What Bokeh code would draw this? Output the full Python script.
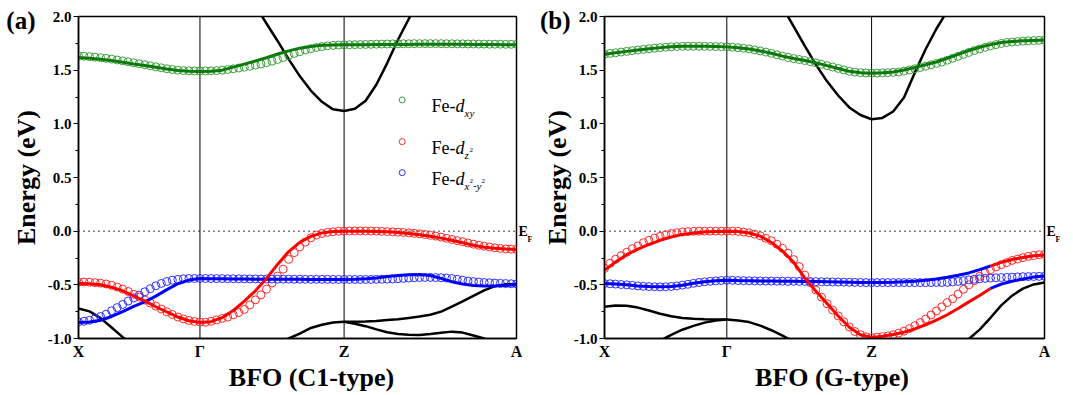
import numpy as np
from bokeh.plotting import figure
from bokeh.layouts import row
from bokeh.models import Range1d, FixedTicker, Label, Span, PrintfTickFormatter, LinearAxis
from bokeh.embed import file_html
from bokeh.resources import INLINE

nan = float("nan")

# ---------------- path / axes data ----------------
KPOS_A = [0.0, 0.2773, 0.6064, 1.0]      # X, Gamma, Z, A  (panel a)
KPOS_B = [0.0, 0.278, 0.607, 1.0]        # X, Gamma, Z, A  (panel b)
K_LABELS = ["X", "Γ", "Z", "A"]
FINE_N = [22, 26, 32]                    # k-points per segment (circles); lines use every 2nd
Y_TICKS = [-1.0, -0.5, 0.0, 0.5, 1.0, 1.5, 2.0]
Y_MINOR = [-0.75, -0.25, 0.25, 0.75, 1.25, 1.75]
SWITCH_K_B = 0.877                       # band-character swap on Z-A in panel b
TAG_Y = 1.96                             # height of the "(a)"/"(b)" tags
EF_SUB_Y = -0.074                        # height of the "F" subscript of E_F
XTITLE_K_A, XTITLE_K_B = 0.532, 0.517    # where the x titles are centred

# ---------------- panel (a): BFO (C1-type) ----------------
# lines: 12 (X..Gamma) + 13 (..Z) + 16 (..A) values
red_line_a = ([-0.488, -0.490, -0.499, -0.522, -0.556, -0.604, -0.650, -0.704, -0.753, -0.800, -0.835, -0.851]
              + [-0.843, -0.806, -0.740, -0.651, -0.556, -0.440, -0.310, -0.190, -0.105, -0.048, -0.016, -0.003, 0.0]
              + [0.0, 0.0, -0.002, -0.006, -0.012, -0.022, -0.033, -0.047, -0.065, -0.085, -0.108, -0.131, -0.150, -0.160, -0.166, -0.170])
blue_line_a = ([-0.851, -0.847, -0.830, -0.795, -0.750, -0.700, -0.658, -0.605, -0.545, -0.490, -0.456, -0.442]
               + [-0.443, -0.444, -0.445, -0.446, -0.447, -0.448, -0.448, -0.449, -0.449, -0.450, -0.450, -0.450, -0.450]
               + [-0.447, -0.443, -0.436, -0.423, -0.413, -0.407, -0.404, -0.413, -0.440, -0.471, -0.493, -0.506, -0.512, -0.510, -0.506, -0.500])
green_line_a = ([1.618, 1.612, 1.602, 1.590, 1.574, 1.558, 1.543, 1.527, 1.510, 1.497, 1.489, 1.487]
                + [1.490, 1.500, 1.528, 1.556, 1.585, 1.617, 1.651, 1.680, 1.705, 1.721, 1.733, 1.735, 1.736]
                + [1.737, 1.737, 1.738, 1.739, 1.739, 1.740, 1.741, 1.742, 1.742, 1.742, 1.741, 1.740, 1.739, 1.738, 1.737, 1.736])
black_para_a = ([nan] * 12
                + [nan, nan, nan, 2.26, 2.10, 1.935, 1.772, 1.603, 1.445, 1.310, 1.205, 1.135, 1.120]
                + [1.140, 1.215, 1.367, 1.566, 1.783, 1.977, 2.17] + [nan] * 9)
black_x_a = ([-0.721, -0.747, -0.810, -0.898, -0.987, -1.07] + [nan] * 6 + [nan] * 13 + [nan] * 16)
black_u_a = ([nan] * 12
             + [nan] * 6 + [-1.05, -1.0, -0.955, -0.902, -0.872, -0.851, -0.845]
             + [-0.844, -0.841, -0.836, -0.828, -0.820, -0.808, -0.796, -0.778, -0.750, -0.704, -0.655, -0.603, -0.552, -0.512, -0.494, -0.492])
black_l_a = ([nan] * 12 + [nan] * 12 + [-0.845]
             + [-0.862, -0.885, -0.915, -0.942, -0.958, -0.966, -0.968, -0.959, -0.946, -0.936, -0.945, -0.972, -1.0, -1.05, nan, nan])

# circles: 23 (X..Gamma) + 26 (..Z) + 32 (..A) values
red_circ_a = ([-0.474, -0.474, -0.476, -0.480, -0.485, -0.492, -0.505, -0.520, -0.540, -0.562, -0.588, -0.614,
               -0.642, -0.670, -0.698, -0.725, -0.752, -0.777, -0.800, -0.818, -0.832, -0.841, -0.847]
              + [-0.849, -0.840, -0.827, -0.813, -0.800, -0.780, -0.758, -0.729, -0.687, -0.640, -0.593, -0.540, -0.483,
                 -0.418, -0.354, -0.263, -0.200, -0.147, -0.102, -0.062, -0.036, -0.022, -0.011, -0.005, -0.001, 0.0]
              + [0.002, 0.002, 0.002, 0.002, 0.001, 0.0, -0.002, -0.004, -0.006, -0.009, -0.012, -0.016, -0.020, -0.025,
                 -0.031, -0.038, -0.046, -0.055, -0.066, -0.077, -0.088, -0.099, -0.110, -0.121, -0.131, -0.140, -0.148,
                 -0.155, -0.161, -0.165, -0.168, -0.170])
blue_circ_a = ([-0.845, -0.839, -0.830, -0.815, -0.795, -0.774, -0.742, -0.712, -0.683, -0.651, -0.622, -0.596,
                -0.565, -0.536, -0.509, -0.487, -0.469, -0.457, -0.449, -0.443, -0.441, -0.441, -0.441]
               + [-0.441, -0.441, -0.442, -0.442, -0.443, -0.443, -0.444, -0.444, -0.445, -0.445, -0.446, -0.446, -0.446,
                  -0.447, -0.447, -0.447, -0.448, -0.448, -0.448, -0.449, -0.449, -0.449, -0.449, -0.450, -0.450, -0.450]
               + [-0.450, -0.450, -0.450, -0.450, -0.450, -0.449, -0.448, -0.447, -0.445, -0.443, -0.440, -0.437, -0.434,
                  -0.432, -0.431, -0.431, -0.432, -0.434, -0.437, -0.441, -0.448, -0.456, -0.465, -0.470, -0.474, -0.478,
                  -0.481, -0.484, -0.486, -0.488, -0.490, -0.491])
green_circ_a = ([1.634, 1.630, 1.626, 1.621, 1.616, 1.610, 1.603, 1.595, 1.587, 1.578, 1.569, 1.560, 1.551, 1.541,
                 1.531, 1.522, 1.513, 1.506, 1.500, 1.496, 1.494, 1.493, 1.493]
                + [1.493, 1.494, 1.496, 1.500, 1.506, 1.513, 1.520, 1.528, 1.537, 1.547, 1.558, 1.570, 1.584, 1.600,
                   1.618, 1.637, 1.656, 1.672, 1.688, 1.700, 1.711, 1.720, 1.727, 1.731, 1.734, 1.736]
                + [1.737, 1.738, 1.739, 1.740, 1.741, 1.742, 1.743, 1.744, 1.745, 1.745, 1.746, 1.746, 1.747, 1.747,
                   1.747, 1.747, 1.747, 1.747, 1.746, 1.746, 1.745, 1.745, 1.744, 1.744, 1.743, 1.743, 1.742, 1.742,
                   1.742, 1.741, 1.741, 1.741])

# ---------------- panel (b): BFO (G-type) ----------------
red_line_b = ([-0.363, -0.288, -0.219, -0.167, -0.124, -0.085, -0.054, -0.030, -0.017, -0.007, -0.002, 0.0]
              + [-0.003, -0.017, -0.046, -0.105, -0.185, -0.290, -0.435, -0.560, -0.675, -0.790, -0.895, -0.965, -0.990]
              + [-0.980, -0.963, -0.941, -0.911, -0.872, -0.829, -0.779, -0.720, -0.659, -0.599, -0.534, -0.493, -0.466, -0.445, -0.428, -0.417])
blue_line_b = ([-0.488, -0.493, -0.500, -0.510, -0.516, -0.519, -0.515, -0.503, -0.486, -0.472, -0.463, -0.457]
               + [-0.460, -0.462, -0.464, -0.465, -0.466, -0.467, -0.468, -0.470, -0.472, -0.474, -0.476, -0.478, -0.479]
               + [-0.478, -0.475, -0.471, -0.466, -0.458, -0.446, -0.430, -0.410, -0.389, -0.358, -0.325, -0.291, -0.264, -0.245, -0.230, -0.222])
green_line_b = ([1.649, 1.662, 1.675, 1.688, 1.700, 1.710, 1.718, 1.722, 1.723, 1.722, 1.720, 1.717]
                + [1.708, 1.698, 1.679, 1.657, 1.631, 1.608, 1.590, 1.568, 1.542, 1.516, 1.489, 1.477, 1.472]
                + [1.477, 1.483, 1.502, 1.525, 1.550, 1.576, 1.611, 1.647, 1.683, 1.713, 1.738, 1.758, 1.766, 1.774, 1.777, 1.780])
black_para_b = ([nan] * 12
                + [nan, nan, nan, 2.266, 2.087, 1.908, 1.726, 1.552, 1.396, 1.264, 1.153, 1.082, 1.043]
                + [1.055, 1.115, 1.245, 1.477, 1.695, 1.886, 2.05] + [nan] * 9)
black_c_b = ([-0.705, -0.692, -0.694, -0.712, -0.739, -0.770, -0.793, -0.809, -0.817, -0.821, -0.822, -0.823]
             + [-0.832, -0.847, -0.880, -0.923, -0.973, -1.03, -1.09] + [nan] * 6 + [nan] * 16)
black_d_b = ([nan] * 4 + [-1.09, -1.02, -0.966, -0.918, -0.882, -0.852, -0.832, -0.823] + [nan] * 13 + [nan] * 16)
black_e_b = ([nan] * 12 + [nan] * 13
             + [nan] * 7 + [-1.08, -1.005, -0.917, -0.807, -0.692, -0.601, -0.535, -0.496, -0.478])

red_circ_b = ([-0.348, -0.299, -0.261, -0.228, -0.196, -0.163, -0.137, -0.107, -0.085, -0.065, -0.048, -0.034,
               -0.022, -0.014, -0.008, -0.004, -0.001, 0.0, 0.0, 0.0, 0.0, 0.0, 0.0]
              + [0.0, -0.002, -0.008, -0.016, -0.028, -0.043, -0.066, -0.089, -0.122, -0.160, -0.206, -0.265, -0.330,
                 -0.409, -0.480, -0.548, -0.615, -0.676, -0.735, -0.790, -0.845, -0.893, -0.935, -0.965, -0.984, -0.992]
              + [-0.987, -0.982, -0.976, -0.965, -0.950, -0.932, -0.907, -0.881, -0.851, -0.818, -0.781, -0.743, -0.705,
                 -0.665, -0.630, -0.586, -0.542, -0.500, -0.462, -0.420, -0.387, -0.359, -0.334, -0.312, -0.293, -0.273,
                 -0.260, -0.247, -0.235, -0.226, -0.220, -0.216])
blue_circ_b = ([-0.488, -0.490, -0.493, -0.497, -0.500, -0.505, -0.510, -0.514, -0.516, -0.518, -0.519, -0.518,
                -0.515, -0.510, -0.503, -0.495, -0.486, -0.478, -0.472, -0.467, -0.463, -0.460, -0.457]
               + [-0.458, -0.460, -0.461, -0.462, -0.463, -0.464, -0.465, -0.465, -0.466, -0.466, -0.467, -0.467, -0.468,
                  -0.468, -0.469, -0.470, -0.471, -0.472, -0.473, -0.474, -0.475, -0.476, -0.477, -0.478, -0.479, -0.479]
               + [-0.479] * 11 + [-0.478, -0.478, -0.477, -0.473, -0.468, -0.461, -0.454, -0.448, -0.444, -0.440, -0.437,
                                   -0.434, -0.432, -0.430, -0.428, -0.426, -0.424, -0.423, -0.422, -0.421, -0.420])
green_circ_b = ([1.649, 1.656, 1.662, 1.669, 1.675, 1.682, 1.688, 1.694, 1.700, 1.705, 1.710, 1.714, 1.718, 1.720,
                 1.722, 1.723, 1.723, 1.723, 1.722, 1.721, 1.720, 1.719, 1.717]
                + [1.714, 1.709, 1.704, 1.698, 1.689, 1.679, 1.668, 1.657, 1.643, 1.631, 1.619, 1.608, 1.599, 1.590,
                   1.579, 1.568, 1.555, 1.542, 1.529, 1.516, 1.502, 1.489, 1.482, 1.477, 1.474, 1.472]
                + [1.473, 1.475, 1.477, 1.480, 1.483, 1.491, 1.502, 1.513, 1.525, 1.537, 1.550, 1.563, 1.576, 1.593,
                   1.611, 1.629, 1.647, 1.665, 1.683, 1.698, 1.713, 1.726, 1.738, 1.749, 1.758, 1.762, 1.766, 1.770,
                   1.774, 1.776, 1.778, 1.780])

# ---------------- styling ----------------
FONT = "Liberation Serif"
GREEN_LINE, GREEN_CIRC = "#0b7a0b", "#3c9e3c"
RED_LINE, RED_CIRC = "#ff0000", "#ff2a2a"
BLUE_LINE, BLUE_CIRC = "#0000ff", "#3030ff"


def path_grid(kpos, counts):
    parts = [np.array([kpos[0]])]
    for a, b, n in zip(kpos[:-1], kpos[1:], counts):
        parts.append(np.linspace(a, b, n + 1)[1:])
    return np.concatenate(parts)


def text_axis(tick, text, size, standoff):
    """An axis with no line or ticks that only carries one text label."""
    ax = LinearAxis(ticker=FixedTicker(ticks=[tick], minor_ticks=[]),
                    major_label_overrides={tick: text})
    ax.axis_line_color = None
    ax.major_tick_line_color = None
    ax.minor_tick_line_color = None
    ax.major_tick_in = 0
    ax.major_tick_out = 0
    ax.minor_tick_in = 0
    ax.minor_tick_out = 0
    ax.major_label_standoff = standoff
    ax.major_label_text_font = FONT
    ax.major_label_text_font_style = "bold"
    ax.major_label_text_font_size = size
    ax.major_label_text_color = "black"
    return ax


def base_figure(width, bl, br, kpos, xlabel, xlabel_k, tag, tag_standoff, ylabel_standoff):
    p = figure(width=width, height=395, x_range=Range1d(0, 1), y_range=Range1d(-1, 2),
               output_backend="svg", toolbar_location=None,
               min_border_left=bl, min_border_right=br, min_border_top=16, min_border_bottom=57)
    p.xgrid.visible = False
    p.ygrid.visible = False
    p.background_fill_color = "white"
    p.border_fill_color = "white"
    p.outline_line_color = "black"
    p.outline_line_width = 1.5
    p.outline_line_alpha = 1.0

    ya = p.yaxis[0]
    ya.ticker = FixedTicker(ticks=Y_TICKS, minor_ticks=Y_MINOR)
    ya.formatter = PrintfTickFormatter(format="%.1f")
    ya.major_tick_in = 0
    ya.major_tick_out = 5
    ya.minor_tick_in = 0
    ya.minor_tick_out = 3
    ya.axis_line_width = 1.5
    ya.major_tick_line_width = 1.2
    ya.minor_tick_line_width = 1.2
    ya.major_label_standoff = 2
    ya.major_label_text_font = FONT
    ya.major_label_text_font_style = "bold"
    ya.major_label_text_font_size = "15px"
    ya.major_label_text_color = "black"
    ya.axis_label = "Energy (eV)"
    ya.axis_label_text_font = FONT
    ya.axis_label_text_font_style = "bold"
    ya.axis_label_text_font_size = "26px"
    ya.axis_label_text_color = "black"
    ya.axis_label_standoff = ylabel_standoff

    xa = p.xaxis[0]
    xa.ticker = FixedTicker(ticks=kpos)
    xa.major_label_overrides = {k: lab for k, lab in zip(kpos, K_LABELS)}
    xa.major_tick_in = 0
    xa.major_tick_out = 0
    xa.minor_tick_line_color = None
    xa.axis_line_width = 1.5
    xa.major_label_standoff = 4
    xa.major_label_text_font = FONT
    xa.major_label_text_font_style = "bold"
    xa.major_label_text_font_size = "16px"
    xa.major_label_text_color = "black"

    # x title (sits slightly right of the frame centre, as in the original)
    p.add_layout(text_axis(xlabel_k, xlabel, "26px", 0), "below")
    # panel tag, placed outside the energy axis, pulled back over its label
    p.add_layout(text_axis(TAG_Y, tag, "25px", tag_standoff), "left")
    # Fermi level mark "E_F" on the right side
    p.add_layout(text_axis(0.0, "E", "14px", 2), "right")
    p.add_layout(text_axis(EF_SUB_Y, "F", "8px", -3), "right")

    for kv in kpos[1:-1]:
        p.add_layout(Span(location=kv, dimension="height", line_color="black", line_width=1, level="underlay"))
    p.add_layout(Span(location=0, dimension="width", line_color="black", line_width=1.5,
                      line_dash="1 4", level="underlay"))
    return p


def circles(p, k, e, color):
    p.scatter(k, np.array(e, dtype=float), marker="circle", size=8, fill_color=None,
              line_color=color, line_width=1)


def line(p, k, e, color, width=3):
    p.line(k, np.array(e, dtype=float), line_color=color, line_width=width)


# ---------------- panel a ----------------
kf_a = path_grid(KPOS_A, FINE_N)
kl_a = kf_a[::2]
pa = base_figure(535, 78, 18, KPOS_A, "BFO (C1-type)", XTITLE_K_A, "(a)", -27, 4)
for band in (black_para_a, black_x_a, black_u_a, black_l_a):
    line(pa, kl_a, band, "black", 2.5)
circles(pa, kf_a, green_circ_a, GREEN_CIRC)
circles(pa, kf_a, red_circ_a, RED_CIRC)
circles(pa, kf_a, blue_circ_a, BLUE_CIRC)
line(pa, kl_a, green_line_a, GREEN_LINE)
line(pa, kl_a, blue_line_a, BLUE_LINE)
line(pa, kl_a, red_line_a, RED_LINE)

# legend (built from glyphs and labels, as in the original)
LEG_X, LEG_TX = 0.739, 0.806
LEG_Y = [1.223, 0.834, 0.545]
LEG_COLORS = [GREEN_CIRC, RED_CIRC, BLUE_CIRC]
pa.scatter([LEG_X] * 3, LEG_Y, marker="circle", size=6, fill_color=None,
           line_color=LEG_COLORS, line_width=1)


def leg_text(p, y, text, xo, yo, size, style="normal"):
    p.add_layout(Label(x=LEG_TX, y=y, x_offset=xo, y_offset=yo, text=text, text_font=FONT,
                       text_font_style=style, text_font_size=size, text_align="left",
                       text_baseline="alphabetic", text_color="black"))


for yy in LEG_Y:
    leg_text(pa, yy, "Fe-", 0, -6, "18px")
    leg_text(pa, yy, "d", 24, -6, "18px", "italic")
leg_text(pa, LEG_Y[0], "xy", 33, -13, "11px", "italic")
leg_text(pa, LEG_Y[1], "z", 33, -13, "11px", "italic")
leg_text(pa, LEG_Y[1], "2", 38, -8, "7px")
leg_text(pa, LEG_Y[2], "x", 33, -13, "11px", "italic")
leg_text(pa, LEG_Y[2], "2", 38, -8, "7px")
leg_text(pa, LEG_Y[2], "-", 41.5, -13, "11px")
leg_text(pa, LEG_Y[2], "y", 45, -13, "11px", "italic")
leg_text(pa, LEG_Y[2], "2", 50, -8, "7px")

# ---------------- panel b ----------------
kf_b = path_grid(KPOS_B, FINE_N)
kl_b = kf_b[::2]
pb = base_figure(538, 69, 29, KPOS_B, "BFO (G-type)", XTITLE_K_B, "(b)", -31, -1)
for band in (black_para_b, black_c_b, black_d_b, black_e_b):
    line(pb, kl_b, band, "black", 2.5)
circles(pb, kf_b, green_circ_b, GREEN_CIRC)
circles(pb, kf_b, red_circ_b, RED_CIRC)
circles(pb, kf_b, blue_circ_b, BLUE_CIRC)
line(pb, kl_b, green_line_b, GREEN_LINE)
sw = int(np.searchsorted(kl_b, SWITCH_K_B))
upper = np.array(blue_line_b, dtype=float)
lower = np.array(red_line_b, dtype=float)
pb.line(kl_b[:sw + 1], upper[:sw + 1], line_color=BLUE_LINE, line_width=3)
pb.line(kl_b[sw:], upper[sw:], line_color=RED_LINE, line_width=3)
pb.line(kl_b[:sw + 1], lower[:sw + 1], line_color=RED_LINE, line_width=3)
pb.line(kl_b[sw:], lower[sw:], line_color=BLUE_LINE, line_width=3)

layout = row(pa, pb)
open("out.html", "w").write(file_html(layout, INLINE))
